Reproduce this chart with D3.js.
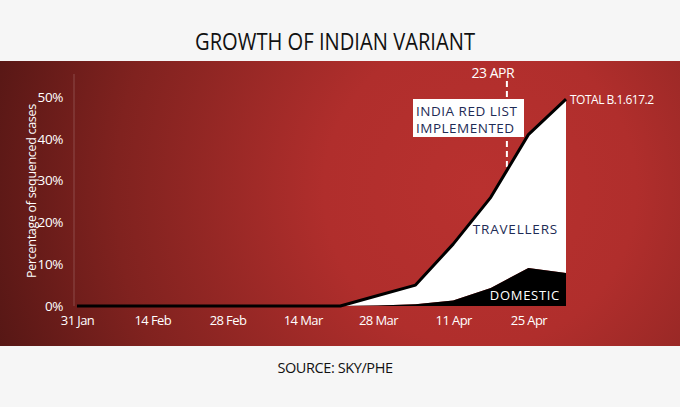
<!DOCTYPE html>
<html>
<head>
<meta charset="utf-8">
<script src="https://cdn.jsdelivr.net/npm/d3@7"></script>
<style>
  html, body { margin: 0; padding: 0; background: #f6f6f6; }
  svg { display: block; }
  text { font-family: "Open Sans", "Noto Sans", sans-serif; }
</style>
</head>
<body>
<svg id="chart" width="680" height="407"></svg>
<script>
// ---- data ----
const dates = ["2021-01-31","2021-02-07","2021-02-14","2021-02-21","2021-02-28","2021-03-07",
               "2021-03-14","2021-03-21","2021-03-28","2021-04-04","2021-04-11","2021-04-18",
               "2021-04-25","2021-05-02"];
const domestic   = [0,0,0,0,0,0,0,0,0.1,0.4,1.3,4.3,9.1,7.9];
const travellers = [0,0,0,0,0,0,0,0,2.4,4.6,13.5,21.7,31.9,41.6];
const xTickLabels = ["2021-01-31","2021-02-14","2021-02-28","2021-03-14","2021-03-28","2021-04-11","2021-04-25"];
const yTicks = [0,10,20,30,40,50];
const redListLabel = "23 APR";
const redListPos = "2021-04-21"; // where the marker sits on the drawn axis

const parse = d3.timeParse("%Y-%m-%d");
const rows = dates.map((d,i) => ({
  date: parse(d), dom: domestic[i], trav: travellers[i], total: domestic[i] + travellers[i]
}));

const svg = d3.select("#chart");
const W = 680, H = 407;

// ---- background ----
const defs = svg.append("defs");
const rg = defs.append("radialGradient").attr("id","bg")
  .attr("gradientUnits","userSpaceOnUse")
  .attr("cx",480).attr("cy",190).attr("r",520)
  .attr("fx",480).attr("fy",190);
rg.append("stop").attr("offset","0%").attr("stop-color","#b9312f");
rg.append("stop").attr("offset","30%").attr("stop-color","#b02e2c");
rg.append("stop").attr("offset","70%").attr("stop-color","#80221f");
rg.append("stop").attr("offset","100%").attr("stop-color","#521614");

svg.append("rect").attr("x",0).attr("y",0).attr("width",W).attr("height",H).attr("fill","#f6f6f6");
svg.append("rect").attr("x",0).attr("y",61).attr("width",W).attr("height",285).attr("fill","url(#bg)");

// ---- title & source ----
svg.append("text").attr("x",335).attr("y",50).attr("text-anchor","middle")
  .attr("font-size",23).attr("fill","#111")
  .attr("textLength",280).attr("lengthAdjust","spacingAndGlyphs")
  .text("GROWTH OF INDIAN VARIANT");
svg.append("text").attr("x",335).attr("y",373).attr("text-anchor","middle")
  .attr("font-size",14.5).attr("fill","#111").attr("letter-spacing",-0.4)
  .text("SOURCE: SKY/PHE");

// ---- scales ----
const x = d3.scaleTime().domain([parse("2021-01-31"), parse("2021-05-02")]).range([77, 566]);
const y = d3.scaleLinear().domain([0,50]).range([306, 97]);

// y axis line
svg.append("line").attr("x1",74).attr("x2",74).attr("y1",y(55.5)).attr("y2",y(0))
  .attr("stroke","rgba(255,255,255,0.2)").attr("stroke-width",1);

// axes
const yAxis = svg.append("g").attr("transform","translate(63,0)")
  .call(d3.axisLeft(y).tickValues(yTicks).tickSize(0).tickPadding(0).tickFormat(d => d + "%"));
yAxis.select(".domain").remove();
yAxis.selectAll("text").attr("fill","#fff").attr("font-size",13.5)
  .attr("font-family","'Open Sans', sans-serif").attr("letter-spacing",-0.4);

const xAxis = svg.append("g").attr("transform","translate(0,316)")
  .call(d3.axisBottom(x).tickValues(xTickLabels.map(parse)).tickSize(0).tickPadding(0)
    .tickFormat(d3.timeFormat("%-d %b")));
xAxis.select(".domain").remove();
xAxis.selectAll("text").attr("fill","#fff").attr("font-size",13)
  .attr("font-family","'Open Sans', sans-serif").attr("letter-spacing",-0.6);

svg.append("text")
  .attr("transform","translate(36,191) rotate(-90)")
  .attr("text-anchor","middle").attr("font-size",12.5).attr("fill","#fff")
  .attr("letter-spacing",-0.3)
  .text("Percentage of sequenced cases");

// ---- areas ----
const travArea = d3.area().x(d => x(d.date)).y0(d => y(d.dom)).y1(d => y(d.total));
const domArea = d3.area().x(d => x(d.date)).y0(y(0)).y1(d => y(d.dom));
const totalLine = d3.line().x(d => x(d.date)).y(d => y(d.total));

svg.append("path").datum(rows).attr("d", travArea).attr("fill","#fff");
svg.append("path").datum(rows).attr("d", domArea).attr("fill","#000");

// ---- dashed red list line ----
const rdt = parse(redListPos);
const rx = x(rdt);
const interpY = (() => {
  for (let i = 1; i < rows.length; i++) {
    if (rows[i].date >= rdt) {
      const a = rows[i-1], b = rows[i];
      const t = (rdt - a.date) / (b.date - a.date);
      return a.total + t * (b.total - a.total);
    }
  }
  return 0;
})();
svg.append("line").attr("x1",rx).attr("x2",rx).attr("y1",81).attr("y2",y(interpY))
  .attr("stroke","#fff").attr("stroke-width",2).attr("stroke-dasharray","6,4");

svg.append("path").datum(rows).attr("d", totalLine).attr("fill","none")
  .attr("stroke","#000").attr("stroke-width",3).attr("stroke-linejoin","round");

// ---- annotations ----
svg.append("text").attr("x",rx - 14).attr("y",78).attr("text-anchor","middle")
  .attr("font-size",14).attr("fill","#fff").attr("letter-spacing",-0.5).text(redListLabel);

svg.append("rect").attr("x",413).attr("y",99).attr("width",111).attr("height",38).attr("fill","#fff");
svg.append("text").attr("x",416).attr("y",116).attr("font-size",13.5).attr("fill","#1e2b55")
  .attr("letter-spacing",0.5).text("INDIA RED LIST");
svg.append("text").attr("x",416).attr("y",133).attr("font-size",13.5).attr("fill","#1e2b55")
  .attr("letter-spacing",0.5).text("IMPLEMENTED");

const last = rows[rows.length-1];
svg.append("text").attr("x",x(last.date)+4).attr("y",y(last.total)+5)
  .attr("font-size",12).attr("fill","#fff").attr("letter-spacing",-0.5).text("TOTAL B.1.617.2");

svg.append("text").attr("x",558).attr("y",234).attr("text-anchor","end")
  .attr("font-size",13.5).attr("fill","#1e2b55").attr("letter-spacing",0.8).text("TRAVELLERS");
svg.append("text").attr("x",560).attr("y",300).attr("text-anchor","end")
  .attr("font-size",13).attr("fill","#fff").attr("letter-spacing",0.7).text("DOMESTIC");
</script>
</body>
</html>
